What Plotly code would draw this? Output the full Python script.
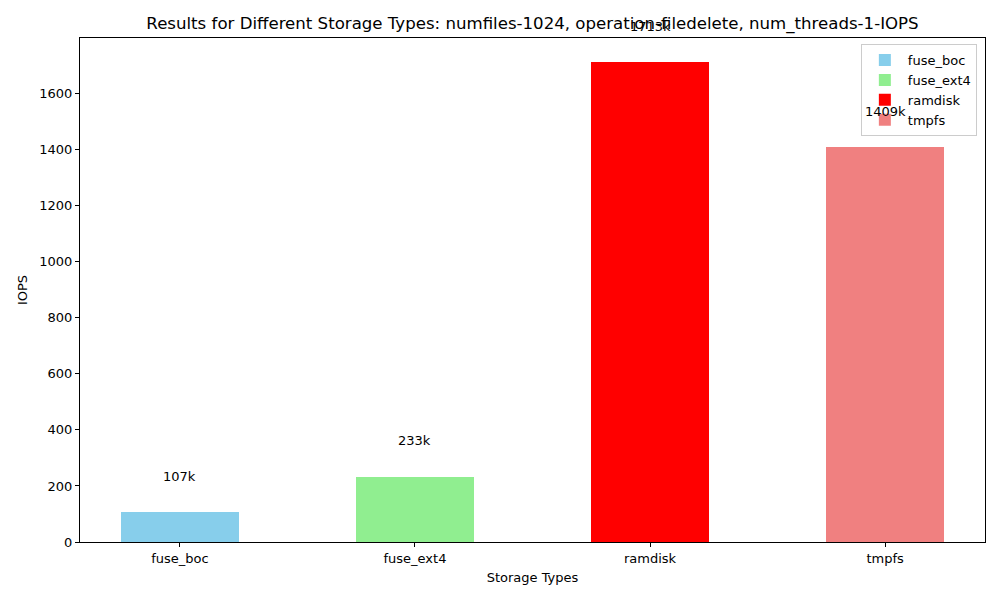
import plotly.graph_objects as go

categories = ["fuse_boc", "fuse_ext4", "ramdisk", "tmpfs"]
iops = [107, 233, 1713, 1409]
labels = ["107k", "233k", "1713k", "1409k"]
colors = ["#87CEEB", "#90EE90", "#FF0000", "#F08080"]

# page body has 8px margin in the browser; compensate
L, R, T, B = 72, 23, 30, 66

fig = go.Figure()
for i, (c, v, col) in enumerate(zip(categories, iops, colors)):
    fig.add_trace(go.Bar(x=[i], y=[v], name=c, marker=dict(color=col, line=dict(width=0)),
                         width=0.5, showlegend=True))

for i, (v, t) in enumerate(zip(iops, labels)):
    fig.add_annotation(x=i, y=v, yshift=36, text=t, showarrow=False,
                       xanchor="center", yanchor="middle",
                       font=dict(size=13, color="black"))

fig.update_layout(
    width=1000, height=600,
    margin=dict(l=L, r=R, t=T, b=B),
    paper_bgcolor="white", plot_bgcolor="white",
    font=dict(family="DejaVu Sans", size=13, color="black"),
    title=dict(text="Results for Different Storage Types: numfiles-1024, operation-filedelete, num_threads-1-IOPS",
               x=(L + 1000 - R) / 2 / 1000, xanchor="center", y=1 - 15 / 600, yanchor="middle",
               font=dict(size=16.6, color="black")),
    legend=dict(x=0.991, y=0.988, xanchor="right", yanchor="top",
                bgcolor="rgba(255,255,255,0.8)", bordercolor="#cccccc", borderwidth=1,
                font=dict(size=13), itemsizing="constant", itemwidth=36, tracegroupgap=0),
    bargap=0,
    barmode="overlay",
)
fig.update_xaxes(
    range=[-0.425, 3.425], tickmode="array", tickvals=list(range(len(categories))),
    ticktext=categories, showgrid=False, zeroline=False, automargin=False,
    showline=True, linecolor="black", linewidth=1, mirror=True,
    ticks="outside", ticklen=4, tickcolor="black",
    title=dict(text="Storage Types", font=dict(size=13), standoff=8),
)
fig.update_yaxes(
    range=[0, max(iops) * 1.05], tickmode="array", tickvals=list(range(0, 1800, 200)),
    showgrid=False, zeroline=False, automargin=False,
    showline=True, linecolor="black", linewidth=1, mirror=True,
    ticks="outside", ticklen=4, tickcolor="black",
    title=dict(text="IOPS", font=dict(size=13), standoff=8),
)

fig.write_html("out.html")
